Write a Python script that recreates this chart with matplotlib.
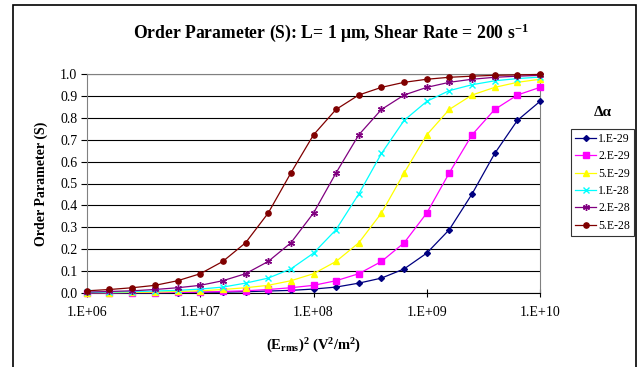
import matplotlib
matplotlib.use("Agg")
import matplotlib.pyplot as plt
from matplotlib.patches import Rectangle

plt.rcParams['font.family'] = ['Liberation Serif', 'DejaVu Serif']
plt.rcParams['mathtext.fontset'] = 'custom'
plt.rcParams['mathtext.rm'] = 'Liberation Serif'
plt.rcParams['mathtext.it'] = 'Liberation Serif:italic'
plt.rcParams['mathtext.bf'] = 'Liberation Serif:bold'

# E_rms^2 (V^2/m^2)
e2 = [1.00e6, 1.58e6, 2.51e6, 3.98e6, 6.31e6,
      1.00e7, 1.58e7, 2.51e7, 3.98e7, 6.31e7,
      1.00e8, 1.58e8, 2.51e8, 3.98e8, 6.31e8,
      1.00e9, 1.58e9, 2.51e9, 3.98e9, 6.31e9,
      1.00e10]

s_1e29 = [0.001, 0.001, 0.001, 0.001, 0.002, 0.003, 0.004, 0.006, 0.009, 0.012,
          0.018, 0.027, 0.045, 0.068, 0.110, 0.182, 0.289, 0.452, 0.637, 0.788, 0.875]
s_2e29 = [0.001, 0.001, 0.002, 0.002, 0.003, 0.004, 0.007, 0.010, 0.016, 0.024,
          0.035, 0.056, 0.088, 0.144, 0.229, 0.365, 0.548, 0.722, 0.838, 0.904, 0.939]
s_5e29 = [0.002, 0.002, 0.003, 0.004, 0.007, 0.010, 0.016, 0.024, 0.035, 0.056,
          0.088, 0.144, 0.229, 0.365, 0.548, 0.722, 0.838, 0.904, 0.939, 0.962, 0.976]
s_1e28 = [0.003, 0.004, 0.006, 0.009, 0.012, 0.018, 0.027, 0.045, 0.068, 0.110,
          0.182, 0.289, 0.452, 0.637, 0.788, 0.875, 0.924, 0.951, 0.969, 0.979, 0.986]
s_2e28 = [0.004, 0.007, 0.010, 0.016, 0.024, 0.035, 0.056, 0.088, 0.144, 0.229,
          0.365, 0.548, 0.722, 0.838, 0.904, 0.939, 0.962, 0.976, 0.985, 0.990, 0.994]
s_5e28 = [0.010, 0.016, 0.024, 0.035, 0.056, 0.088, 0.144, 0.229, 0.365, 0.548,
          0.722, 0.838, 0.904, 0.939, 0.962, 0.976, 0.985, 0.990, 0.994, 0.996, 0.998]

labels = ['1.E-29', '2.E-29', '5.E-29', '1.E-28', '2.E-28', '5.E-28']
series = [s_1e29, s_2e29, s_5e29, s_1e28, s_2e28, s_5e28]
colors = ['#000080', '#FF00FF', '#FFFF00', '#00FFFF', '#800080', '#800000']
markers = ['D', 's', '^', 'x', (6, 2, 0), 'o']
msizes = [3.0, 3.8, 4.0, 4.5, 5.0, 3.8]

xticks = [1e6, 1e7, 1e8, 1e9, 1e10]
xticklabels = ['1.E+06', '1.E+07', '1.E+08', '1.E+09', '1.E+10']
yticks = [0.0, 0.1, 0.2, 0.3, 0.4, 0.5, 0.6, 0.7, 0.8, 0.9, 1.0]

fig = plt.figure(figsize=(6.39, 3.67), dpi=100)
fig.patches.append(Rectangle((13 / 639, -0.05), 623 / 639, 1.05 - 5 / 367,
                             transform=fig.transFigure, fill=False,
                             edgecolor='black', linewidth=1.2))

ax = fig.add_axes([87 / 639, (367 - 293) / 367, 453 / 639, 219 / 367])
for lab, ys, c, m, ms in zip(labels, series, colors, markers, msizes):
    ax.plot(e2, ys, color=c, marker=m, markersize=ms, linewidth=0.9,
            markeredgewidth=1.0, label=lab, clip_on=False, zorder=3)

ax.set_xscale('log')
ax.set_xlim(1e6, 1e10)
ax.set_ylim(0, 1.0)
ax.set_xticks(xticks)
ax.set_xticklabels(xticklabels)
ax.xaxis.set_minor_locator(matplotlib.ticker.NullLocator())
ax.set_yticks(yticks)
ax.set_yticklabels([f'{v:.1f}' for v in yticks])
ax.tick_params(axis='x', direction='inout', length=6, labelsize=10, pad=6)
ax.tick_params(axis='y', direction='out', length=4, labelsize=10, pad=3)
ax.grid(axis='y', color='black', linewidth=0.8)
for sp in ax.spines.values():
    sp.set_color('#808080')
ax.spines['bottom'].set_color('black')

fig.text(331 / 639, 1 - 33 / 367,
         r'Order Parameter (S): L= 1 μm, Shear Rate = 200 s$^{\mathbf{-1}}$',
         fontsize=12.7, fontweight='bold', ha='center', va='center')
ax.set_ylabel('Order Parameter (S)', fontsize=10, fontweight='bold', labelpad=9)
ax.set_xlabel(r'$\mathbf{(E_{rms})^2\ (V^2/m^2)}$', fontsize=10.5, labelpad=13)

leg = ax.legend(loc='upper left', bbox_to_anchor=(571 / 639, 1 - 129 / 367),
                bbox_transform=fig.transFigure, fontsize=8.5, frameon=True,
                fancybox=False, edgecolor='black', handlelength=1.8,
                handletextpad=0.15, borderpad=0.35, labelspacing=0.45,
                borderaxespad=0)
leg.get_frame().set_linewidth(0.8)
fig.text(603 / 639, 1 - 113 / 367, 'Δα', fontsize=11, fontweight='bold',
         ha='center', va='center')

fig.savefig('out.png', dpi=100)
